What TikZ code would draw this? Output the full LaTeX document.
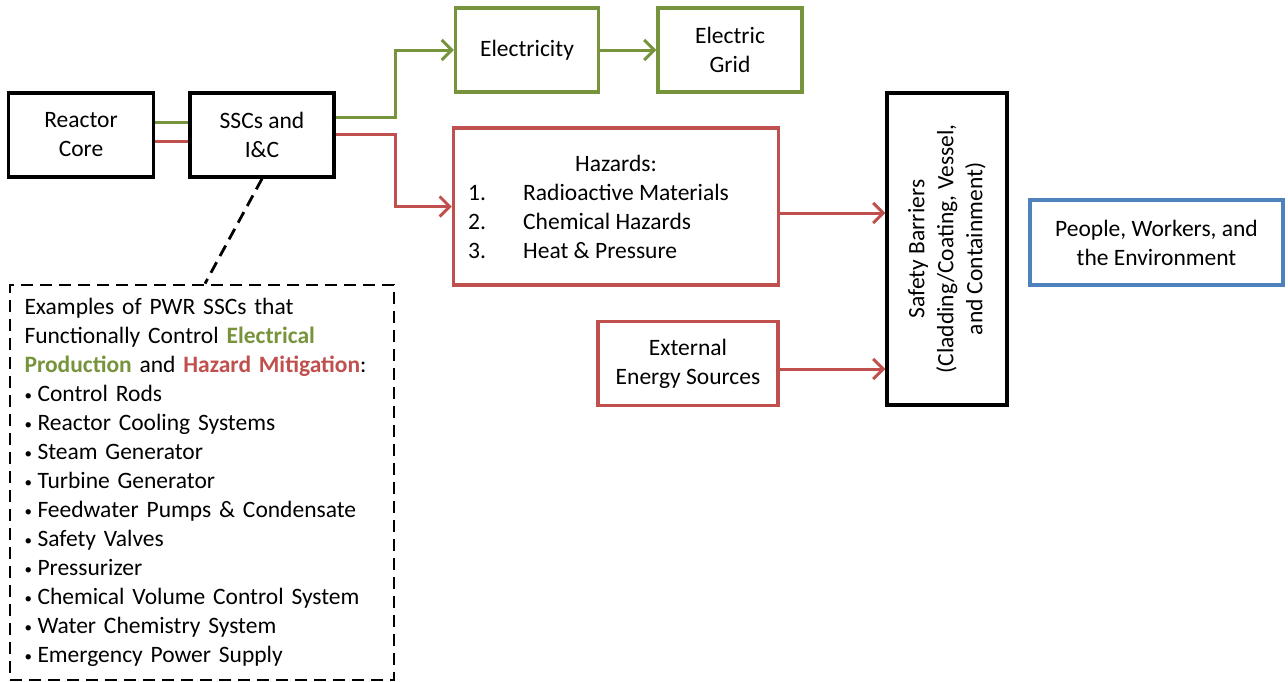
\documentclass[tikz,border=0pt]{standalone}
\usepackage{fontspec}
\setmainfont{Carlito}
\usetikzlibrary{arrows.meta,calc}
\definecolor{grn}{RGB}{119,147,60}
\definecolor{rd}{RGB}{192,80,77}
\definecolor{blu}{RGB}{79,129,189}
% small list bullet
\newcommand\itemdot{\makebox[13pt][l]{\raisebox{1.5pt}{\fontsize{15}{15}\selectfont\textbullet}}}

\begin{document}
\begin{tikzpicture}[x=1pt,y=-1pt,
  every node/.style={font=\fontsize{23.5}{29}\selectfont, inner sep=0pt},
  blk/.style={draw=#1, line width=3.5pt, align=center, rectangle},
  flow/.style={draw=#1, line width=3pt, -{Straight Barb[length=10pt,width=20pt]}},
  link/.style={draw=#1, line width=3pt},
  dashbox/.style={draw=black, line width=2.8pt, dash pattern=on 12pt off 7pt},
]
\useasboundingbox (0,0) rectangle (1288,681);

% main boxes
\node[blk=black, minimum width=145pt, minimum height=84pt] (core) at (81,135) {Reactor\\Core};
\node[blk=black, minimum width=144pt, minimum height=84pt] (ssc) at (262,135) {SSCs and\\I\&C};
\node[blk=grn, minimum width=143pt, minimum height=84pt] (elec) at (527,50) {Electricity};
\node[blk=grn, minimum width=144pt, minimum height=84pt] (grid) at (730,50) {Electric\\Grid};
\node[blk=rd, minimum width=325pt, minimum height=157pt] (hz) at (616,206.5) {};
\node (hztitle) at (616,163) {Hazards:};
\node[anchor=west] (hzlist) at (468,224) {%
  \begin{tabular}{@{}p{55pt}@{}l@{}}
  1. & Radioactive Materials\\
  2. & Chemical Hazards\\
  3. & Heat \& Pressure
  \end{tabular}};
\node[blk=rd, minimum width=180pt, minimum height=84pt] (ext) at (688,363.5) {External\\Energy Sources};
\node[blk=black, minimum width=120pt, minimum height=312pt] (safety) at (947,249) {};
\node[rotate=90, align=center] (safetytext) at (947,249)
  {Safety Barriers\\(Cladding/Coating, Vessel,\\and Containment)};
\node[blk=blu, minimum width=253pt, minimum height=85pt] (ppl) at (1156.5,242.5)
  {People, Workers, and\\the Environment};

% examples list
\node[dashbox, minimum width=384pt, minimum height=395pt, text width=355pt, align=left] (ex) at (202,482.5) {%
Examples of PWR SSCs that\\
Functionally Control {\bfseries\color{grn}Electrical}\\
{\bfseries\color{grn}Production} and {\bfseries\color{rd}Hazard Mitigation}:\\
\itemdot Control Rods\\
\itemdot Reactor Cooling Systems\\
\itemdot Steam Generator\\
\itemdot Turbine Generator\\
\itemdot Feedwater Pumps \& Condensate\\
\itemdot Safety Valves\\
\itemdot Pressurizer\\
\itemdot Chemical Volume Control System\\
\itemdot Water Chemistry System\\
\itemdot Emergency Power Supply};

% connectors
\coordinate (bend) at (395,0);
\draw[link=grn] ($(core.east)+(0,-13)$) -- ($(ssc.west)+(0,-13)$);
\draw[link=rd] ($(core.east)+(0,6)$) -- ($(ssc.west)+(0,6)$);
\draw[flow=grn] ($(ssc.east)+(0,-18)$) -| (bend |- elec.west) -- (elec.west);
\draw[flow=rd] ($(ssc.east)+(0,-1)$) -| (bend |- hz.west) -- (hz.west);
\draw[flow=grn] (elec) -- (grid);
\coordinate (h1) at ($(hz.east)+(0,6.5)$);
\coordinate (e1) at ($(ext.east)+(0,5.5)$);
\draw[flow=rd] (h1) -- (h1 -| safety.west);
\draw[flow=rd] (e1) -- (e1 -| safety.west);
\draw[dashbox] (ssc.south) -- ($(ex.north)+(3,0)$);
\end{tikzpicture}
\end{document}
